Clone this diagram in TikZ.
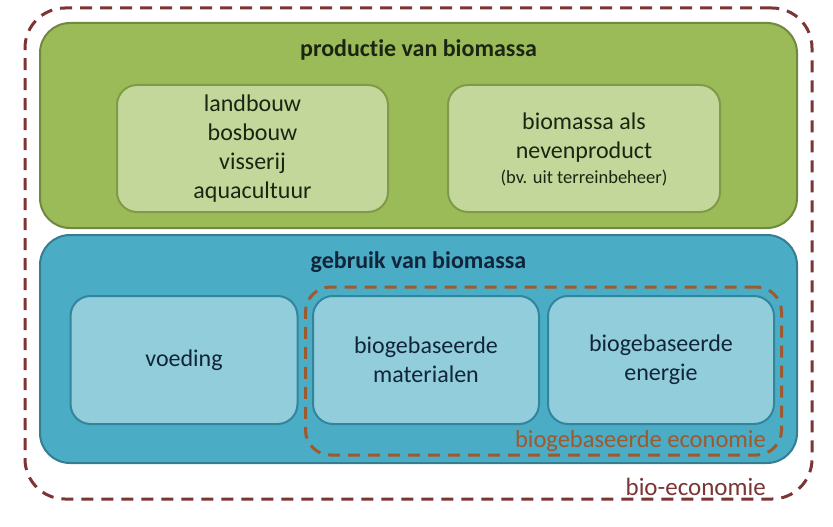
\documentclass[tikz,border=0pt]{standalone}
\usepackage{fontspec}
\setmainfont[Ligatures={NoCommon}]{Carlito}
\definecolor{gfill}{HTML}{9BBB59}
\definecolor{gline}{HTML}{71893F}
\definecolor{lgfill}{HTML}{C4D79B}
\definecolor{lgline}{HTML}{7F9A48}
\definecolor{bfill}{HTML}{4BACC6}
\definecolor{bline}{HTML}{357D91}
\definecolor{lbfill}{HTML}{92CDDC}
\definecolor{lbline}{HTML}{31859C}
\definecolor{outerdash}{HTML}{7B3535}
\definecolor{innerdash}{HTML}{9C5A2E}
\definecolor{gtext}{HTML}{1A2612}
\definecolor{btext}{HTML}{10253A}
\tikzset{
  bigbox/.style={rectangle, rounded corners=30pt, line width=2pt, inner sep=0pt},
  smallbox/.style={rectangle, rounded corners=20pt, line width=2pt, inner sep=0pt, align=center,
    font=\fontsize{24}{29}\selectfont},
  titletext/.style={font=\bfseries\fontsize{24}{28}\selectfont},
  dashbox/.style={rectangle, line width=3pt, dash pattern=on 12pt off 8pt, inner sep=0pt}
}
\begin{document}
\begin{tikzpicture}[x=1pt,y=-1pt]
\useasboundingbox (0,0) rectangle (833,527);
\fill[white] (0,0) rectangle (833,527);
% outer dashed
\node[dashbox, draw=outerdash, rounded corners=40pt, minimum width=787pt, minimum height=491pt] (bioeco) at (418.5,253.5) {};
% production
\node[bigbox, draw=gline, fill=gfill, minimum width=757pt, minimum height=205pt] (prod) at (418.5,125.5) {};
\node[titletext, text=gtext] (prodtitle) at (418.5,50) {productie van biomassa};
\node[smallbox, draw=lgline, fill=lgfill, text=gtext, minimum width=271pt, minimum height=127pt] (land) at (252.5,148.5) {landbouw\\bosbouw\\visserij\\aquacultuur};
\node[smallbox, draw=lgline, fill=lgfill, text=gtext, minimum width=272pt, minimum height=127pt] (neven) at (584,148.5) {};
\node[align=center, text=gtext, font=\fontsize{24}{29}\selectfont] (nevtext) at (584,138) {biomassa als\\nevenproduct};
\node[text=gtext, font=\fontsize{18.5}{22}\selectfont] (bv) at (584,178) {(bv. uit terreinbeheer)};
% use
\node[bigbox, draw=bline, fill=bfill, minimum width=757pt, minimum height=228pt] (use) at (418.5,349) {};
\node[titletext, text=btext] (usetitle) at (418.5,262) {gebruik van biomassa};
\node[dashbox, draw=innerdash, rounded corners=25pt, minimum width=476pt, minimum height=168pt] (bbe) at (543.5,371) {};
\node[smallbox, draw=lbline, fill=lbfill, text=btext, minimum width=227pt, minimum height=128pt] (voed) at (184,360) {voeding};
\node[smallbox, draw=lbline, fill=lbfill, text=btext, minimum width=226pt, minimum height=128pt] (mat) at (426,360) {biogebaseerde\\materialen};
\node[smallbox, draw=lbline, fill=lbfill, text=btext, minimum width=226pt, minimum height=128pt] (en) at (661,360) {biogebaseerde\\energie};
\node[anchor=east, text=innerdash, font=\fontsize{24.5}{29}\selectfont, inner sep=0pt] (bbelabel) at (766,441) {biogebaseerde economie};
\node[anchor=east, text=outerdash, font=\fontsize{25}{29}\selectfont, inner sep=0pt] (biolabel) at (766,487) {bio-economie};
\end{tikzpicture}
\end{document}
